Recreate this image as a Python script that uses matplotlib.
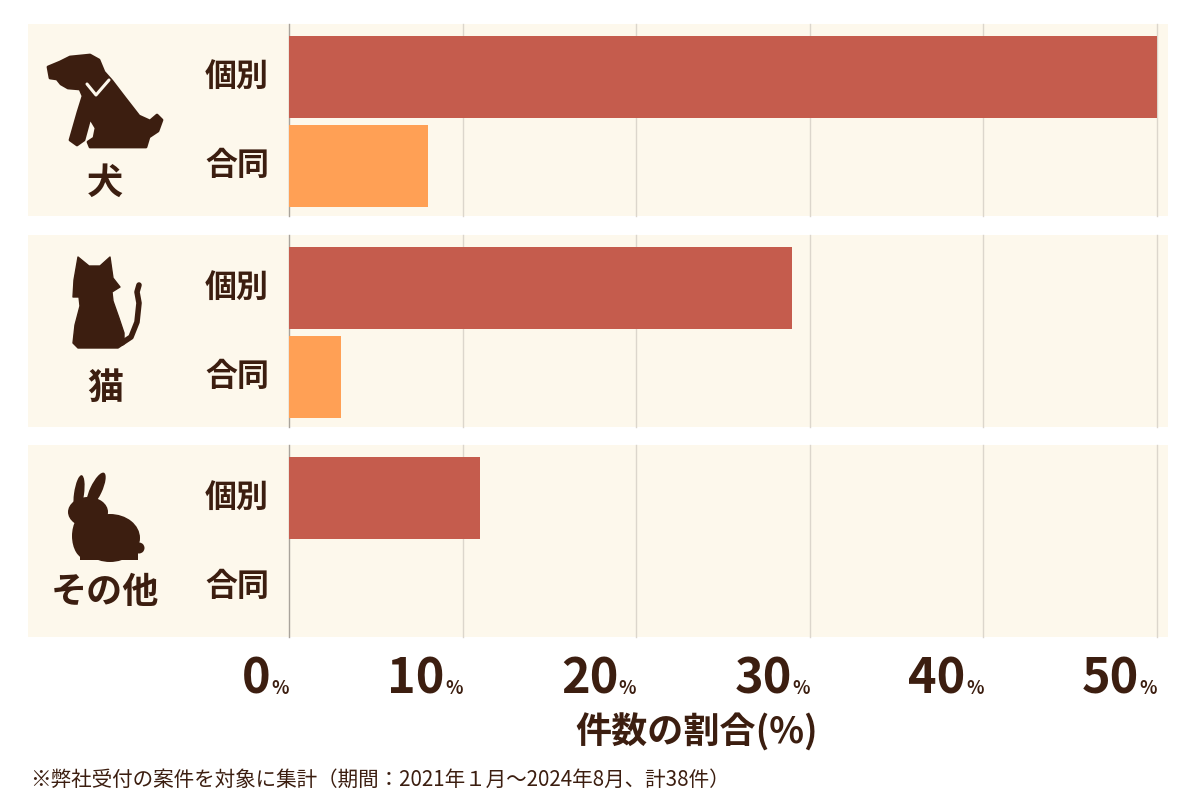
"""Pet case share by type (individual vs joint) as grouped horizontal bars."""

import matplotlib

matplotlib.use("Agg")
import matplotlib.pyplot as plt
import matplotlib.transforms as mtransforms
from matplotlib.patches import Ellipse, Polygon, Rectangle

plt.rcParams["font.family"] = ["Noto Sans CJK JP", "DejaVu Sans"]

# data
groups = ["犬", "猫", "その他"]
kinds = ["個別", "合同"]
kojin = [50.0, 29.0, 11.0]
godo = [8.0, 3.0, 0.0]
xticks = [0, 10, 20, 30, 40, 50]
xlabel = "件数の割合(%)"
note = "※弊社受付の案件を対象に集計（期間：2021年１月～2024年8月、計38件）"

C_KOJIN = "#c55c4d"
C_GODO = "#ffa055"
C_PANEL = "#fdf8ec"
C_TEXT = "#3c1e10"
C_GRID = "#dcd6cc"

W, H = 1200, 800
fig = plt.figure(figsize=(12, 8), dpi=100)
fig.patch.set_facecolor("white")

# main axes: 0% at x=289px, 50% at x=1157px; y in pixel rows 24..638
ax = fig.add_axes([289 / W, 1 - 638 / H, 868 / W, 614 / H])
ax.set_xlim(0, 50)
ax.set_ylim(638, 24)
ax.axis("off")

# overlay in pixel coordinates for icons and free text
ov = fig.add_axes([0, 0, 1, 1], zorder=5)
ov.set_xlim(0, W)
ov.set_ylim(H, 0)
ov.axis("off")
ov.patch.set_alpha(0)

PITCH = 210.5
PANEL_H = 192
y_panel = [24 + i * PITCH for i in range(len(groups))]
y_kojin = [y + 53 for y in y_panel]
y_godo = [y + 142 for y in y_panel]

panel_tr = mtransforms.blended_transform_factory(ov.transData, ax.transData)
for y0 in y_panel:
    ax.add_patch(Rectangle((28, y0), 1140, PANEL_H, transform=panel_tr,
                           facecolor=C_PANEL, edgecolor="none", zorder=0,
                           clip_on=False))
    for t in xticks:
        ax.plot([t, t], [y0, y0 + PANEL_H], color="#a9a39b" if t == 0 else C_GRID,
                lw=1, zorder=1, clip_on=False)

ax.barh(y_kojin, kojin, height=82, color=C_KOJIN, zorder=2)
ax.barh(y_godo, godo, height=82, color=C_GODO, zorder=2)

# category and kind labels
for g, y0 in enumerate(y_panel):
    for yk, k in zip((y_kojin[g], y_godo[g]), kinds):
        ax.text(237, yk, k, transform=panel_tr, ha="center", va="center",
                fontsize=23, fontweight="bold", color=C_TEXT)
label_y = [183, 388, 592]
for name, yl in zip(groups, label_y):
    ov.text(105, yl, name, ha="center", va="center", fontsize=26,
            fontweight="bold", color=C_TEXT)

# tick labels: big number + small %
tick_tr = mtransforms.blended_transform_factory(ax.transData, ov.transData)
for t in xticks:
    ax.text(t, 694, "%", transform=tick_tr, ha="right", va="baseline",
            fontsize=13, fontweight="bold", color=C_TEXT)
    ax.annotate(str(t), xy=(t, 694), xycoords=tick_tr, xytext=(-13, 0),
                textcoords="offset points", ha="right", va="baseline",
                fontsize=35, fontweight="bold", color=C_TEXT)

ov.text(697, 733, xlabel, ha="center", va="center", fontsize=26,
        fontweight="bold", color=C_TEXT)
ov.text(30, 780, note, ha="left", va="center", fontsize=14.8, color=C_TEXT)

# icons
dog = [(48, 67), (60, 62), (70, 57), (90, 55), (99, 60), (104, 72), (112, 81),
       (125, 98), (139, 116), (150, 121), (157, 115), (162, 120), (158, 131),
       (149, 137), (146, 147), (90, 147), (88, 142), (94, 138), (96, 128),
       (90, 118), (84, 140), (77, 145), (70, 140), (78, 112), (83, 96),
       (80, 89), (68, 88), (61, 84), (57, 79), (50, 78)]
ov.add_patch(Polygon(dog, closed=True, facecolor=C_TEXT, edgecolor=C_TEXT,
                     lw=2, joinstyle="round"))
ov.plot([87, 96, 109], [84, 95, 80], color=C_PANEL, lw=2.2,
        solid_capstyle="round")

cat = [(73, 297), (74, 280), (78, 257), (89, 266), (100, 266), (110, 257),
       (113, 278), (120, 287), (112, 292), (113, 301), (119, 318), (124, 333),
       (124, 344), (118, 348), (78, 348), (73, 343), (75, 325), (80, 306),
       (79, 297)]
ov.add_patch(Polygon(cat, closed=True, facecolor=C_TEXT, edgecolor=C_TEXT,
                     lw=1, joinstyle="round"))
ov.plot([122, 131, 137, 139, 137, 139], [343, 337, 322, 303, 292, 285],
        color=C_TEXT, lw=4, solid_capstyle="round")

for e in [Ellipse((79, 494), 10, 38, angle=8),
          Ellipse((96, 490), 12, 38, angle=25),
          Ellipse((88, 512), 40, 30),
          Ellipse((110, 538), 60, 48),
          Ellipse((86, 536), 28, 46),
          Ellipse((139, 548), 11, 11)]:
    e.set_facecolor(C_TEXT)
    e.set_edgecolor("none")
    ov.add_patch(e)
ov.add_patch(Rectangle((80, 545), 58, 15, facecolor=C_TEXT, edgecolor="none"))

fig.savefig("out.png", dpi=100)
plt.close(fig)
